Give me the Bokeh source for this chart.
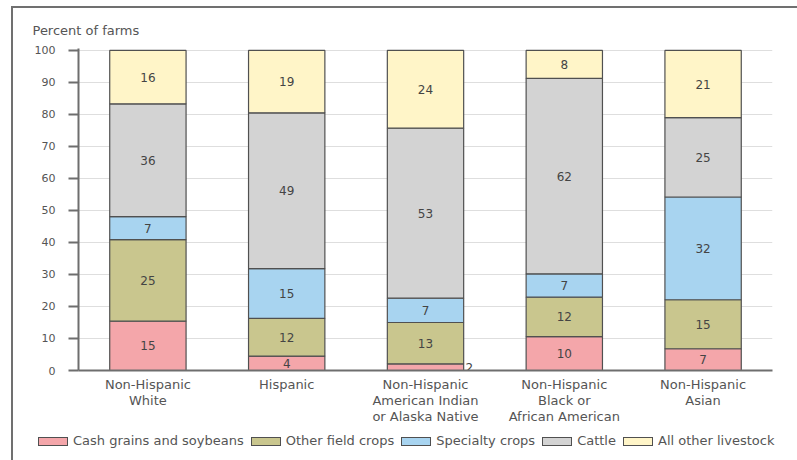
from bokeh.plotting import figure
from bokeh.layouts import column
from bokeh.models import ColumnDataSource, Range1d, FactorRange, Div
from bokeh.core.properties import value
from bokeh.embed import file_html
from bokeh.resources import INLINE

categories = [
    "Non-Hispanic\nWhite",
    "Hispanic",
    "Non-Hispanic\nAmerican Indian\nor Alaska Native",
    "Non-Hispanic\nBlack or\nAfrican American",
    "Non-Hispanic\nAsian",
]
series_names = ["Cash grains and soybeans", "Other field crops", "Specialty crops",
                "Cattle", "All other livestock"]
keys = ["cash", "field", "specialty", "cattle", "livestock"]

# drawn segment heights (percent of farms)
cash = [15.4, 4.5, 2.1, 10.6, 6.8]
field = [25.5, 11.8, 12.9, 12.3, 15.3]
specialty = [7.2, 15.5, 7.6, 7.3, 32.1]
cattle = [35.2, 48.7, 53.1, 61.05, 24.8]
livestock = [16.7, 19.5, 24.3, 8.75, 21.0]

# printed labels
cash_lbl = [15, 4, 2, 10, 7]
field_lbl = [25, 12, 13, 12, 15]
specialty_lbl = [7, 15, 7, 7, 32]
cattle_lbl = [36, 49, 53, 62, 25]
livestock_lbl = [16, 19, 24, 8, 21]

y_ticks = list(range(0, 101, 10))

colors = ["#F4A6AA", "#C9C68E", "#A8D4F0", "#D3D3D3", "#FFF5C8"]
FONT = "DejaVu Sans"
TXT = "#555555"
EDGE = "#505050"

series_vals = [cash, field, specialty, cattle, livestock]
series_lbls = [cash_lbl, field_lbl, specialty_lbl, cattle_lbl, livestock_lbl]

data = {"cat": categories}
for k, v in zip(keys, series_vals):
    data[k] = v
source = ColumnDataSource(data)

p = figure(
    x_range=FactorRange(*categories, range_padding=0),
    y_range=Range1d(0, 100.6),
    width=784, height=420,
    output_backend="svg", toolbar_location=None,
    min_border_left=65, min_border_right=25, min_border_top=40, min_border_bottom=58,
)

renderers = p.vbar_stack(keys, x="cat", width=0.55, color=colors, source=source,
                         line_color=EDGE, line_width=1.2)

# segment labels
in_x, in_y, in_t = [], [], []
out_x, out_y, out_t = [], [], []
for i, c in enumerate(categories):
    bottom = 0.0
    for vals, lbls in zip(series_vals, series_lbls):
        v = vals[i]
        mid = bottom + v / 2
        if v < 3:
            out_x.append(c); out_y.append(mid); out_t.append(str(lbls[i]))
        else:
            in_x.append(c); in_y.append(mid); in_t.append(str(lbls[i]))
        bottom += v

p.text(x=in_x, y=in_y, text=in_t, text_align="center", text_baseline="middle",
       text_font=value(FONT), text_font_size="12px", text_color="#444444")
p.text(x=out_x, y=out_y, text=out_t, text_align="left", text_baseline="middle",
       x_offset=40, text_font=value(FONT), text_font_size="12px", text_color="#444444")

# title
p.title.text = "Percent of farms"
p.title.align = "left"
p.title.offset = -46
p.title.standoff = 22
p.title.text_font = FONT
p.title.text_font_size = "13px"
p.title.text_font_style = "normal"
p.title.text_color = TXT

# axes
p.yaxis.ticker = y_ticks
p.yaxis.axis_line_color = "#6e6e6e"
p.yaxis.axis_line_width = 2
p.yaxis.major_tick_line_color = "#6e6e6e"
p.yaxis.major_tick_line_width = 2
p.yaxis.major_tick_out = 10
p.yaxis.major_tick_in = 0
p.yaxis.minor_tick_line_color = None
p.yaxis.major_label_standoff = 13
p.yaxis.major_label_text_font = FONT
p.yaxis.major_label_text_font_size = "11px"
p.yaxis.major_label_text_color = TXT

p.xaxis.axis_line_color = "#6e6e6e"
p.xaxis.axis_line_width = 2
p.xaxis.major_tick_line_color = None
p.xaxis.major_tick_out = 0
p.xaxis.major_label_standoff = 6
p.xaxis.major_label_text_font = FONT
p.xaxis.major_label_text_font_size = "13px"
p.xaxis.major_label_text_color = TXT
p.xaxis.major_label_text_line_height = 1.07

p.xgrid.grid_line_color = None
p.ygrid.grid_line_color = "#dedede"
p.ygrid.grid_line_width = 1
p.outline_line_color = None

# legend (HTML strip below the plot)
items_html = "".join(
    f'<span style="display:inline-block;width:30px;height:9px;border:1px solid {EDGE};'
    f'background:{c};margin-right:5px;"></span>'
    f'<span style="margin-right:7px;">{n}</span>'
    for n, c in zip(series_names, colors)
)
legend_div = Div(
    text=(f'<div style="display:flex;align-items:center;font-family:\'{FONT}\';'
          f'font-size:13px;line-height:14px;color:{TXT};padding-left:20px;'
          f'padding-top:1px;white-space:nowrap;">{items_html}</div>'),
    width=784, height=32,
)

layout = column(p, legend_div, spacing=0,
                styles={"margin-left": "11px", "margin-top": "6px",
                        "border-left": "2px solid #707070", "border-top": "2px solid #707070"})

open("out.html", "w").write(file_html(layout, INLINE))
